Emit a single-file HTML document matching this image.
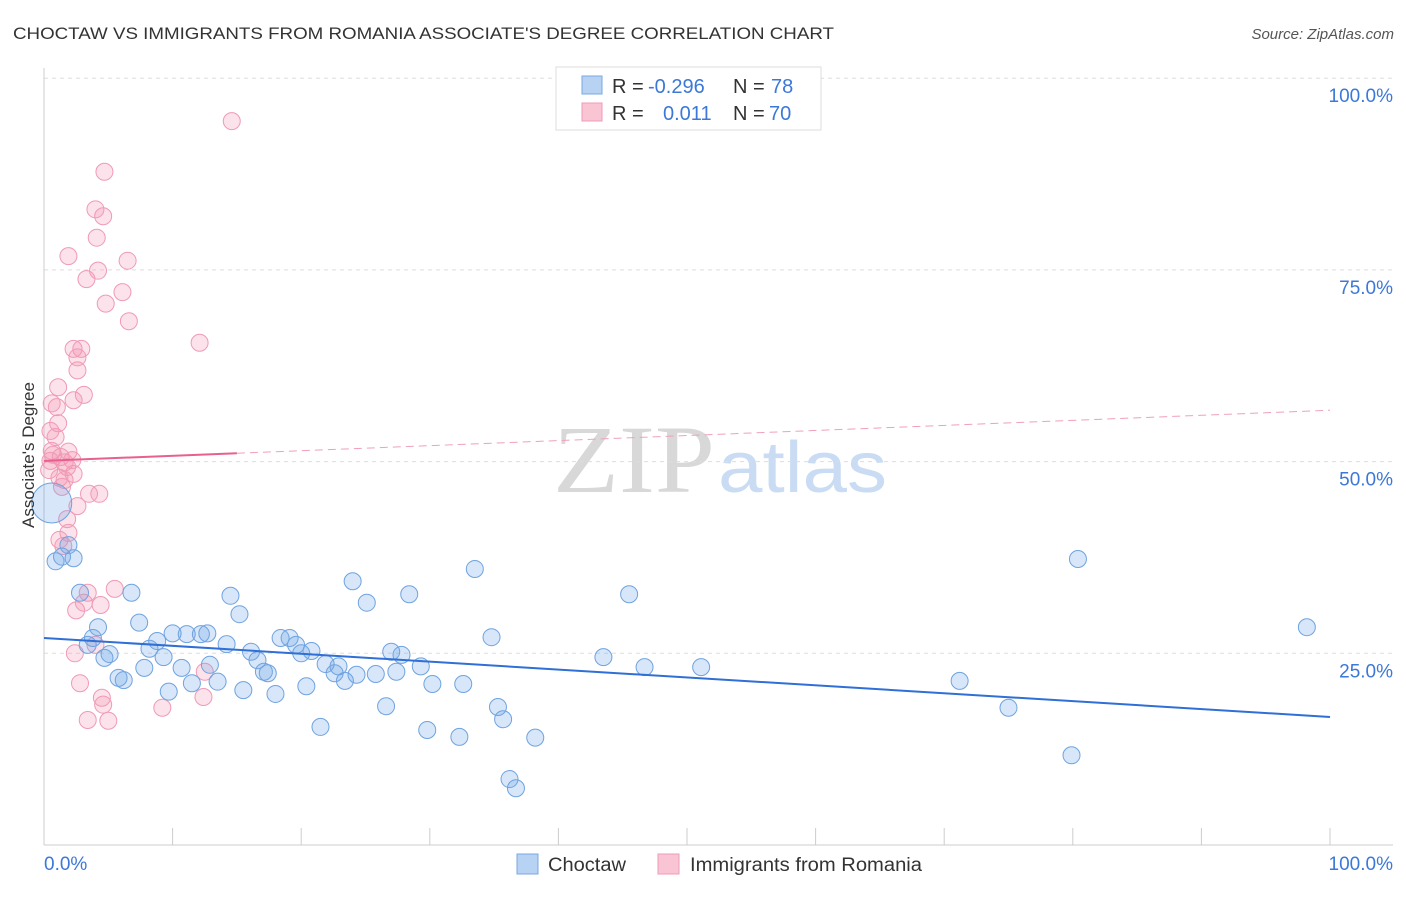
<!DOCTYPE html>
<html><head><meta charset="utf-8"><style>
body{margin:0;background:#fff;font-family:"Liberation Sans",sans-serif;}
svg text{font-family:"Liberation Sans",sans-serif;}
</style></head><body>
<svg id="chart" width="1406" height="892" xmlns="http://www.w3.org/2000/svg">
<text x="13" y="39" font-size="17" fill="#333" textLength="821" lengthAdjust="spacingAndGlyphs">CHOCTAW VS IMMIGRANTS FROM ROMANIA ASSOCIATE'S DEGREE CORRELATION CHART</text>
<text x="1394" y="39" font-size="15" fill="#555" font-style="italic" text-anchor="end">Source: ZipAtlas.com</text>
<g>
<text x="553" y="492" font-size="96" fill="#d8d8d8" textLength="162" lengthAdjust="spacingAndGlyphs" style="font-family:'Liberation Serif',serif">ZIP</text>
<text x="718" y="492" font-size="72" fill="#c9dcf3" textLength="169" lengthAdjust="spacingAndGlyphs">atlas</text>
</g>
<g id="grid"></g>
<g id="axes"></g>
<g id="marks"></g>
<text transform="translate(34,455) rotate(-90)" font-size="17" fill="#333" text-anchor="middle">Associate's Degree</text>
<g>
<rect x="556" y="67" width="265" height="63" fill="#fff" stroke="#ddd"/>
<rect x="582" y="76" width="20" height="18" fill="#b7d2f3" stroke="#7aa8e0"/>
<rect x="582" y="103" width="20" height="18" fill="#f9c5d5" stroke="#f09ab6"/>
<text x="612" y="93" font-size="20" fill="#333">R = <tspan x="648" fill="#3b78d8">-0.296</tspan><tspan x="733">N = </tspan><tspan x="771" fill="#3b78d8">78</tspan></text>
<text x="612" y="120" font-size="20" fill="#333">R = <tspan x="663" fill="#3b78d8">0.011</tspan><tspan x="733">N = </tspan><tspan x="769" fill="#3b78d8">70</tspan></text>
</g>
<g>
<rect x="517" y="854" width="21" height="20" fill="#b7d2f3" stroke="#7aa8e0"/>
<text x="548" y="871" font-size="19" fill="#333" textLength="78" lengthAdjust="spacingAndGlyphs">Choctaw</text>
<rect x="658" y="854" width="21" height="20" fill="#f9c5d5" stroke="#f09ab6"/>
<text x="690" y="871" font-size="19" fill="#333" textLength="232" lengthAdjust="spacingAndGlyphs">Immigrants from Romania</text>
</g>
</svg>
<script>
const yTicks=[25,50,75,100];
const yTickLabels=["25.0%","50.0%","75.0%","100.0%"];
const blueX=[0.6,0.9,1.4,1.9,2.3,2.8,3.4,3.8,4.2,4.7,5.1,5.8,6.2,6.8,7.4,7.8,8.2,8.8,9.3,9.7,10.0,10.7,11.1,11.5,12.2,12.7,12.9,13.5,14.2,14.5,15.2,15.5,16.1,16.6,17.1,17.4,18.0,18.4,19.1,19.6,20.0,20.4,20.8,21.5,21.9,22.6,22.9,23.4,24.0,24.3,25.1,25.8,26.6,27.0,27.4,27.8,28.4,29.3,29.8,30.2,32.3,32.6,33.5,34.8,35.3,35.7,36.2,36.7,38.2,43.5,45.5,46.7,51.1,71.2,75.0,79.9,80.4,98.2];
const blueY=[44.6,37.0,37.6,39.1,37.4,32.9,26.1,27.0,28.4,24.4,24.9,21.8,21.5,32.9,29.0,23.1,25.6,26.6,24.5,20.0,27.6,23.1,27.5,21.1,27.5,27.6,23.5,21.3,26.2,32.5,30.1,20.2,25.2,24.1,22.6,22.4,19.7,27.0,27.0,26.1,25.0,20.7,25.3,15.4,23.6,22.4,23.3,21.4,34.4,22.2,31.6,22.3,18.1,25.2,22.6,24.8,32.7,23.3,15.0,21.0,14.1,21.0,36.0,27.1,18.0,16.4,8.6,7.4,14.0,24.5,32.7,23.2,23.2,21.4,17.9,11.7,37.3,28.4];
const pinkX=[14.6,4.7,4.0,4.6,4.1,1.9,4.2,3.3,6.5,6.1,4.8,6.6,12.1,2.3,2.9,2.6,2.6,1.1,3.1,2.3,1.0,0.6,1.1,0.5,0.9,0.6,1.9,1.3,1.6,2.2,0.5,1.8,2.3,1.2,1.6,1.4,3.5,4.3,2.6,1.8,1.9,1.2,1.5,5.5,3.4,2.5,4.4,3.1,4.0,2.4,2.8,12.5,12.4,4.5,4.6,9.2,3.4,5.0,0.4,0.7];
const pinkY=[94.4,87.8,82.9,82.0,79.2,76.8,74.9,73.8,76.2,72.1,70.6,68.3,65.5,64.7,64.7,63.6,61.9,59.7,58.7,58.0,57.1,57.6,55.0,54.0,53.2,51.4,51.3,50.6,49.9,50.2,50.1,49.3,48.4,47.9,47.6,46.7,45.8,45.8,44.2,42.5,40.7,39.8,39.0,33.4,32.9,30.6,31.3,31.6,26.1,25.0,21.1,22.6,19.3,19.2,18.3,17.9,16.3,16.2,48.9,50.9];
const blueTrend=[27.0,16.7];
const pinkTrend=[50.1,56.7];
const pinkSolidEnd=15;

const NS="http://www.w3.org/2000/svg";
const X=v=>44+v*12.86;
const Y=v=>845-v*7.668;
function mk(tag,attrs,parent){const e=document.createElementNS(NS,tag);for(const k in attrs)e.setAttribute(k,attrs[k]);parent.appendChild(e);return e;}
const grid=document.getElementById('grid'),axes=document.getElementById('axes'),marks=document.getElementById('marks');
yTicks.forEach((t,i)=>{
  const l=mk('line',{x1:44,x2:1393,y1:Y(t),y2:Y(t),stroke:'#ddd','stroke-dasharray':'4,4'},grid);
  
  
  const tx=mk('text',{x:1393,y:Y(t)+24,'font-size':19,fill:'#3b78d8','text-anchor':'end'},axes);
  tx.textContent=yTickLabels[i];
  
  
});
let a=mk('line',{x1:44,x2:44,y1:68,y2:845,stroke:'#ccc'},axes);


a=mk('line',{x1:44,x2:1393,y1:845,y2:845,stroke:'#ccc'},axes);


for(let i=0;i<=10;i++){
  const t=mk('line',{x1:X(i*10),x2:X(i*10),y1:828,y2:845,stroke:'#ccc'},axes);
  
  
}
let xl=mk('text',{x:44,y:870,'font-size':19,fill:'#3b78d8'},axes);xl.textContent='0.0%';


xl=mk('text',{x:1393,y:870,'font-size':19,fill:'#3b78d8','text-anchor':'end'},axes);xl.textContent='100.0%';



pinkX.forEach((x,i)=>{
  const c=mk('circle',{cx:X(x),cy:Y(pinkY[i]),r:8.5,fill:'rgba(244,150,180,0.28)',stroke:'#f09ab6','stroke-width':1},marks);
  
  
});
blueX.forEach((x,i)=>{
  const c=mk('circle',{cx:X(x),cy:Y(blueY[i]),r:i===0?20:8.5,fill:'rgba(110,165,230,0.28)',stroke:'#6fa3e0','stroke-width':1},marks);
  
  
});
let t=mk('line',{x1:X(0),y1:Y(blueTrend[0]),x2:X(100),y2:Y(blueTrend[1]),stroke:'#2f6fd6','stroke-width':2},marks);


const py=v=>pinkTrend[0]+(pinkTrend[1]-pinkTrend[0])*v/100;
t=mk('line',{x1:X(0),y1:Y(py(0)),x2:X(pinkSolidEnd),y2:Y(py(pinkSolidEnd)),stroke:'#e8608e','stroke-width':2},marks);


t=mk('line',{x1:X(pinkSolidEnd),y1:Y(py(pinkSolidEnd)),x2:X(100),y2:Y(py(100)),stroke:'#f0a0bb','stroke-width':1,'stroke-dasharray':'8,5'},marks);


</script>
</body></html>
